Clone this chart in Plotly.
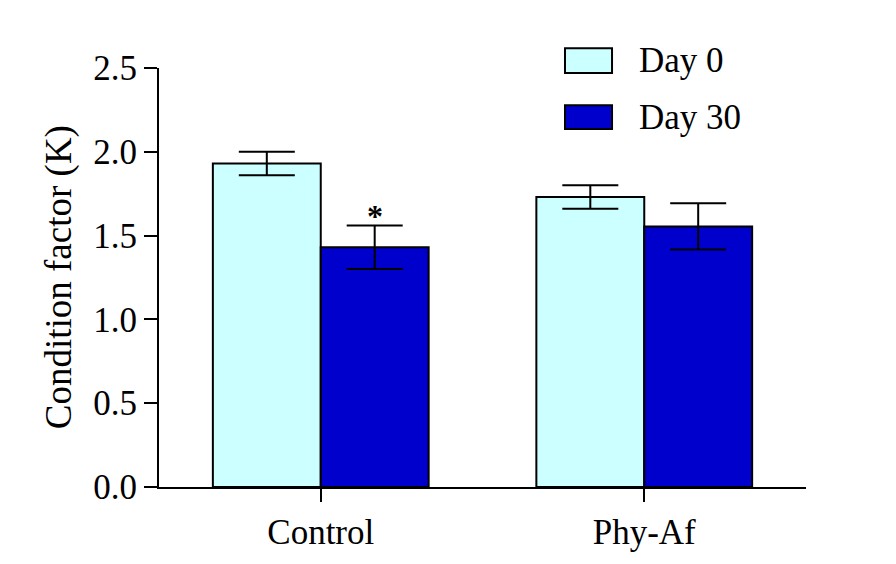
import plotly.graph_objects as go

# Condition factor (K) by group, before and after 30 days
groups = ["Control", "Phy-Af"]
day0_mean = [1.93, 1.73]
day0_sem = [0.07, 0.07]
day30_mean = [1.43, 1.555]
day30_sem = [0.13, 0.138]
series_names = ["Day 0", "Day 30"]
y_ticks = [0.0, 0.5, 1.0, 1.5, 2.0, 2.5]

LIGHT = "#CCFFFF"
DARK = "#0000CC"
FONT = "Liberation Serif"

fig = go.Figure()
for name, means, sems, color in [
    (series_names[0], day0_mean, day0_sem, LIGHT),
    (series_names[1], day30_mean, day30_sem, DARK),
]:
    fig.add_trace(go.Bar(
        x=groups, y=means, name=name,
        marker=dict(color=color, line=dict(color="black", width=2)),
        error_y=dict(type="data", array=sems, visible=True,
                     color="black", thickness=2, width=28),
        showlegend=False,
    ))

# significance marker above Control / Day 30
fig.add_annotation(
    x=groups[0], y=day30_mean[0] + day30_sem[0], xref="x", yref="y",
    text="<b>*</b>", showarrow=False, xshift=54, yshift=-10,
    yanchor="bottom", font=dict(family=FONT, size=32, color="black"),
)

# legend drawn as swatches + labels
legend_rows = [(1.0469, 0.9883, 1.0188), (0.9108, 0.8545, 0.8826)]
for (y1, y0, yt), name, color in zip(legend_rows, series_names, [LIGHT, DARK]):
    fig.add_shape(type="rect", xref="paper", yref="paper",
                  x0=0.6275, x1=0.7002, y0=y0, y1=y1,
                  fillcolor=color, line=dict(color="black", width=2))
    fig.add_annotation(x=0.7388, y=yt, xref="paper", yref="paper",
                       text=name, showarrow=False, xanchor="left",
                       yanchor="middle",
                       font=dict(family=FONT, size=35, color="black"))

# y-axis title
fig.add_annotation(x=-0.155, y=0.5, xref="paper", yref="paper",
                   text="Condition factor (K)", textangle=-90,
                   showarrow=False, xanchor="center", yanchor="middle",
                   font=dict(family=FONT, size=37, color="black"))

fig.update_layout(
    width=896, height=564,
    margin=dict(l=159, r=90, t=68, b=70),
    paper_bgcolor="white", plot_bgcolor="white",
    barmode="group", bargap=0.333, bargroupgap=0,
    font=dict(family=FONT, size=35, color="black"),
)
fig.update_xaxes(
    range=[-0.5, 1.5], showline=True, linecolor="black", linewidth=2,
    ticks="outside", ticklen=13, tickwidth=2, tickcolor="black",
    showgrid=False, zeroline=False,
)
fig.update_yaxes(
    range=[0, 2.5], tickvals=y_ticks, ticktext=[f"{v:.1f}" for v in y_ticks],
    showline=True, linecolor="black", linewidth=2,
    ticks="outside", ticklen=13, tickwidth=2, tickcolor="black",
    showgrid=False, zeroline=False,
)

fig.write_html("out.html")
